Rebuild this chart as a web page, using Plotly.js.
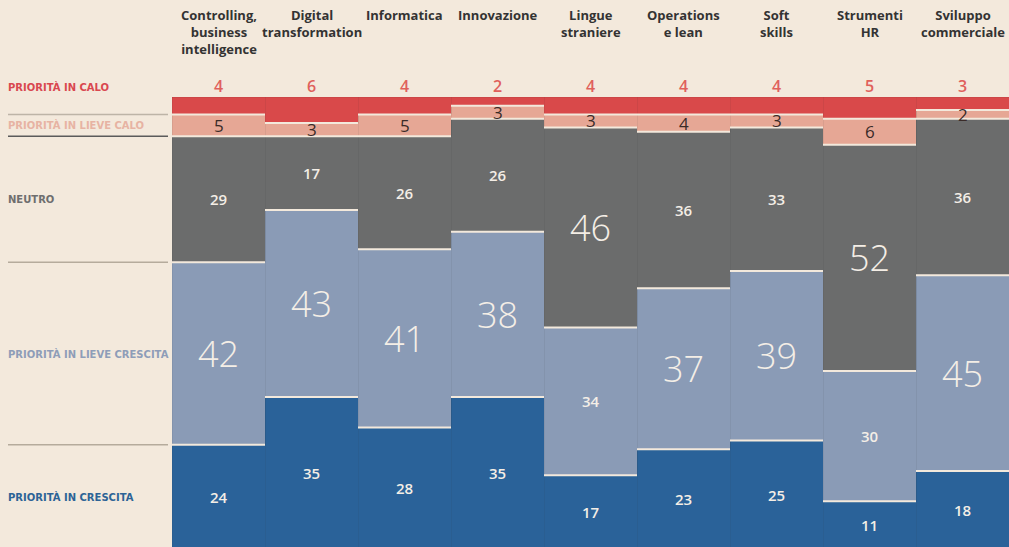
<!DOCTYPE html>
<html>
<head>
<meta charset="utf-8">
<script src="https://cdn.plot.ly/plotly-3.0.1.min.js"></script>
<style>
html,body{margin:0;padding:0;background:#f3e9dc;}
#chart{width:1009px;height:547px;}
</style>
</head>
<body>
<div id="chart"></div>
<script>
// ---- data ----
const categories = ["Controlling", "Digital", "Informatica", "Innovazione", "Lingue", "Operations", "Soft", "Strumenti", "Sviluppo"];
const categoryLabels = ["Controlling,<br>business<br>intelligence", "Digital<br>transformation", "Informatica", "Innovazione", "Lingue<br>straniere", "Operations<br>e lean", "Soft<br>skills", "Strumenti<br>HR", "Sviluppo<br>commerciale"];
const calo = [4, 6, 4, 2, 4, 4, 4, 5, 3];
const lieveCalo = [5, 3, 5, 3, 3, 4, 3, 6, 2];
const neutro = [29, 17, 26, 26, 46, 36, 33, 52, 36];
const lieveCrescita = [42, 43, 41, 38, 34, 37, 39, 30, 45];
const crescita = [24, 35, 28, 35, 17, 23, 25, 11, 18];
const seriesNames = ["PRIORITÀ IN CRESCITA", "PRIORITÀ IN LIEVE CRESCITA", "NEUTRO", "PRIORITÀ IN LIEVE CALO", "PRIORITÀ IN CALO"];

// ---- styles ----
const bg = "#f3e9dc";
const series = [crescita, lieveCrescita, neutro, lieveCalo, calo];
const colors = ["#2a6299", "#8a9bb6", "#6b6c6c", "#e6a795", "#d9494a"];
const labelColors = ["#2c6396", "#8e9db8", "#6e6e6e", "#e7b3a3", "#d9474f"];
const total = 104;

const traces = series.map((vals, k) => ({
  type: "bar",
  x: categories,
  y: vals,
  name: seriesNames[k],
  marker: {color: colors[k], line: {width: 0.6, color: "rgba(40,40,40,0.12)"}},
  hoverinfo: "skip",
  showlegend: false
}));

const annotations = [];
const shapes = [];
const FONT = "Open Sans, Lato, sans-serif";

// cumulative positions
const cum = categories.map((c, i) => {
  let acc = 0;
  return series.map(s => { const b = acc; acc += s[i]; return {base: b, top: acc}; });
});

categories.forEach((c, i) => {
  // category header
  annotations.push({
    x: c, y: 1, xref: "x", yref: "paper", yanchor: "top", xanchor: "center",
    yshift: 93, showarrow: false, text: categoryLabels[i], align: "center",
    font: {family: FONT, size: 13, color: "#333333", weight: 700}
  });
  // calo number above bar
  annotations.push({
    x: c, y: 1, xref: "x", yref: "paper", yanchor: "middle",
    yshift: 11, showarrow: false, text: String(calo[i]),
    font: {family: FONT, size: 16, color: "#e0605b", weight: 600}
  });
  // values inside segments (bottom four)
  for (let k = 0; k < 4; k++) {
    const v = series[k][i];
    const mid = (cum[i][k].base + cum[i][k].top) / 2;
    let font;
    if (k === 3) {
      font = {family: FONT, size: 17, color: "#3a2b28", weight: 400};
    } else if (v >= 37) {
      font = {family: FONT, size: 36, color: "#f4eee6", weight: 300};
    } else {
      font = {family: FONT, size: 15, color: "#f4eee6", weight: 600};
    }
    annotations.push({
      x: c, y: mid, xref: "x", yref: "y", showarrow: false,
      text: String(v), font: font, yanchor: "middle"
    });
  }
  // cream separators at top of each segment boundary
  for (let k = 0; k < 4; k++) {
    shapes.push({
      type: "line", xref: "x", yref: "y",
      x0: i - 0.5, x1: i + 0.5, y0: cum[i][k].top, y1: cum[i][k].top,
      line: {color: bg, width: 2}
    });
  }
});

// left row labels, aligned on first bar segments
const lineColors = ["#b5ab9c", "#b5ab9c", "#5b5b5b", "#bdb4a7"];
const leftX0 = -164 / 837, leftX1 = -4 / 837;
for (let k = 0; k < 4; k++) {
  const mid = (cum[0][k].base + cum[0][k].top) / 2;
  annotations.push({
    x: leftX0, y: mid, xref: "paper", yref: "y", xanchor: "left", yanchor: "middle",
    xshift: -2, showarrow: false, text: seriesNames[k],
    font: {family: "DejaVu Sans, sans-serif", size: 10, color: labelColors[k], weight: 700}
  });
  shapes.push({
    type: "line", xref: "paper", yref: "y",
    x0: leftX0, x1: leftX1, y0: cum[0][k].top, y1: cum[0][k].top,
    line: {color: lineColors[k], width: 1.5}
  });
}
annotations.push({
  x: leftX0, y: 1, xref: "paper", yref: "paper", xanchor: "left", yanchor: "middle",
  xshift: -2, yshift: 10, showarrow: false, text: seriesNames[4],
  font: {family: "DejaVu Sans, sans-serif", size: 10, color: labelColors[4], weight: 700}
});

const layout = {
  width: 1009, height: 547,
  margin: {l: 172, r: 0, t: 97, b: 0, pad: 0},
  paper_bgcolor: bg, plot_bgcolor: bg,
  barmode: "stack", bargap: 0,
  showlegend: false,
  xaxis: {type: "category", categoryorder: "array", categoryarray: categories,
          range: [-0.5, 8.5], showticklabels: false, showgrid: false, zeroline: false,
          showline: false, ticks: "", fixedrange: true},
  yaxis: {range: [0.5, total], showticklabels: false, showgrid: false, zeroline: false,
          showline: false, ticks: "", fixedrange: true},
  annotations: annotations,
  shapes: shapes
};

Plotly.newPlot("chart", traces, layout, {displayModeBar: false, staticPlot: true});
</script>
</body>
</html>
